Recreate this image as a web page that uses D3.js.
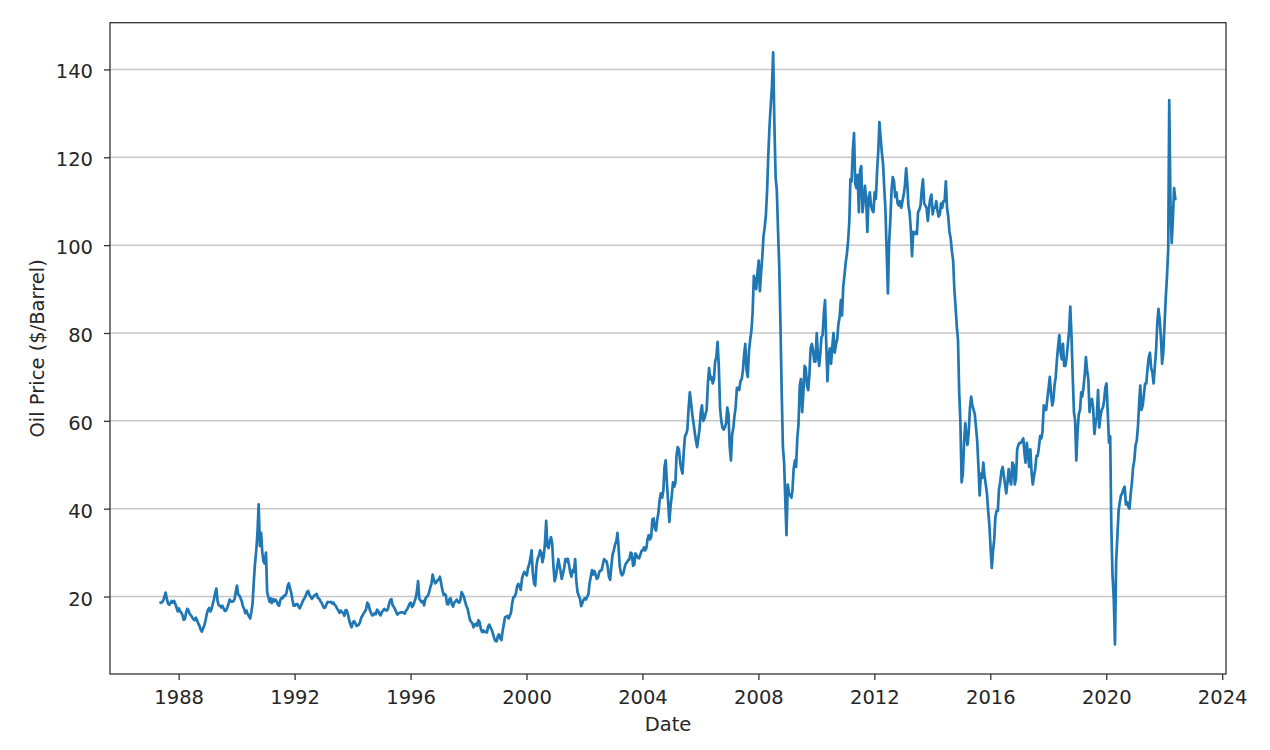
<!DOCTYPE html>
<html><head><meta charset="utf-8">
<script src="https://cdn.jsdelivr.net/npm/d3@7"></script>
<style>body{margin:0;background:#fff} svg text{font-family:"DejaVu Sans",sans-serif;fill:#262626}</style>
</head><body><svg id="chart" width="1270" height="750"></svg>
<script>
// Brent oil price, two readings per month (around the 5th and the 20th), $/barrel
const p1987 = [18.6, 18.7, 19.0, 19.9, 20.9, 19.5, 18.4, 18.1, 18.5, 19.0, 18.6, 19.0, 18.3, 17.5, 16.6]; // from May 20
const p1988 = [17.3, 16.6, 16.3, 15.6, 14.7, 14.9, 16.5, 17.2, 16.8, 16.0, 15.7, 15.2, 14.8, 14.6, 15.2, 14.6, 13.8, 13.3, 12.4, 12.0, 12.8, 13.4, 14.6, 16.0];
const p1989 = [17.0, 17.4, 16.6, 17.2, 18.3, 19.3, 20.8, 21.8, 19.0, 18.0, 17.9, 17.5, 17.9, 17.3, 16.7, 16.8, 17.5, 18.3, 19.3, 18.9, 18.8, 18.9, 19.4, 21.0];
const p1990 = [22.5, 20.5, 20.2, 19.6, 19.0, 17.8, 17.2, 16.2, 16.8, 16.0, 15.5, 15.0, 16.5, 18.3, 23.5, 27.5, 30.5, 34.5, 41.0, 31.5, 34.5, 30.0, 28.0, 27.5];
const p1991 = [30.0, 21.0, 19.8, 18.8, 19.6, 18.5, 19.4, 18.9, 19.3, 18.9, 18.1, 17.9, 19.2, 19.7, 19.6, 20.2, 20.2, 20.8, 22.4, 23.0, 21.8, 20.8, 19.2, 17.9];
const p1992 = [17.9, 18.3, 18.3, 17.7, 17.3, 17.9, 18.6, 19.2, 19.6, 20.2, 21.0, 21.3, 20.4, 20.0, 19.5, 19.8, 20.2, 20.4, 20.6, 19.7, 19.5, 19.0, 18.6, 18.0];
const p1993 = [17.4, 17.5, 18.2, 18.8, 18.7, 18.7, 18.8, 18.4, 18.6, 18.1, 17.8, 17.2, 16.8, 16.3, 16.8, 16.5, 16.2, 15.6, 16.9, 16.8, 15.8, 14.5, 13.6, 13.0];
const p1994 = [14.1, 14.4, 13.9, 13.3, 13.4, 13.6, 14.2, 15.2, 15.6, 16.2, 16.6, 17.1, 18.6, 18.2, 17.0, 16.3, 15.7, 15.8, 16.2, 16.0, 17.0, 16.7, 16.0, 15.7];
const p1995 = [16.5, 16.8, 17.2, 16.9, 16.8, 17.1, 18.3, 19.2, 19.4, 18.0, 17.6, 17.1, 16.4, 15.9, 16.2, 16.3, 16.4, 16.4, 16.3, 16.1, 16.8, 17.1, 17.7, 18.4];
const p1996 = [18.6, 17.6, 18.0, 18.9, 19.6, 21.0, 23.5, 19.5, 19.1, 18.7, 19.0, 18.0, 19.4, 19.9, 20.1, 20.9, 22.0, 22.9, 25.0, 23.8, 23.0, 23.2, 23.7, 23.8];
const p1997 = [24.5, 23.0, 21.5, 20.4, 20.6, 20.3, 18.3, 18.2, 19.4, 19.6, 18.2, 17.7, 18.6, 18.9, 19.3, 18.8, 18.6, 19.2, 21.0, 20.5, 19.8, 18.7, 17.8, 17.2];
const p1998 = [15.8, 14.6, 14.2, 13.8, 13.0, 13.6, 13.8, 13.3, 14.6, 14.2, 12.6, 11.9, 12.3, 11.9, 12.0, 11.8, 13.2, 13.6, 12.9, 12.4, 11.5, 10.5, 9.9, 9.8];
const p1999 = [11.0, 11.4, 10.4, 10.1, 12.0, 13.5, 15.3, 15.4, 15.6, 15.0, 15.6, 16.4, 18.5, 19.8, 20.0, 20.7, 22.3, 22.9, 22.4, 21.5, 24.0, 25.0, 25.6, 25.2];
const p2000 = [24.8, 26.5, 27.4, 28.8, 30.5, 25.5, 23.0, 22.5, 26.9, 28.6, 29.3, 30.5, 30.0, 27.8, 29.2, 32.0, 37.2, 31.5, 31.0, 32.5, 33.5, 32.0, 27.0, 23.5];
const p2001 = [24.5, 26.5, 28.5, 27.0, 25.8, 24.0, 25.2, 26.5, 28.5, 28.0, 28.6, 27.2, 25.5, 24.5, 26.0, 25.6, 28.5, 23.5, 21.0, 20.2, 19.5, 17.8, 18.5, 19.3];
const p2002 = [19.6, 19.3, 20.0, 20.6, 23.0, 24.4, 26.0, 25.0, 25.8, 25.0, 24.0, 24.3, 25.5, 25.9, 26.0, 27.3, 28.5, 28.2, 28.0, 26.8, 24.5, 23.8, 26.8, 29.5];
const p2003 = [30.5, 31.8, 32.5, 34.5, 31.5, 27.0, 25.3, 24.8, 25.3, 26.5, 27.5, 27.8, 28.3, 28.4, 30.0, 29.8, 27.0, 27.2, 29.8, 29.4, 28.8, 28.7, 29.5, 30.4];
const p2004 = [30.5, 31.2, 30.5, 31.0, 33.0, 34.0, 33.0, 33.5, 37.5, 37.8, 35.5, 35.0, 37.5, 39.0, 42.0, 43.5, 42.5, 44.0, 49.5, 51.0, 45.5, 41.5, 37.0, 40.5];
const p2005 = [43.0, 46.0, 45.0, 46.0, 52.0, 54.0, 53.5, 50.5, 49.0, 48.0, 53.0, 56.5, 57.0, 58.0, 63.0, 66.5, 64.0, 61.5, 59.5, 57.5, 55.5, 54.0, 56.0, 58.0];
const p2006 = [62.0, 63.5, 60.0, 60.5, 61.5, 62.5, 68.5, 72.0, 69.5, 70.0, 68.5, 69.5, 73.5, 74.5, 78.0, 72.5, 63.0, 60.0, 58.5, 58.0, 58.5, 59.5, 63.0, 61.5];
const p2007 = [54.0, 51.0, 57.0, 58.5, 61.0, 63.0, 67.5, 67.5, 67.0, 69.0, 69.5, 71.5, 75.0, 77.5, 71.5, 70.0, 76.0, 78.5, 80.5, 84.5, 93.0, 92.0, 90.0, 93.5];
const p2008 = [96.5, 89.5, 94.0, 97.5, 102.0, 104.0, 107.0, 112.5, 120.5, 127.0, 132.0, 136.0, 143.9, 128.0, 115.5, 112.5, 103.0, 95.0, 82.0, 67.0, 54.0, 50.5, 42.0, 34.0];
const p2009 = [45.5, 43.5, 43.0, 42.5, 44.0, 49.0, 51.0, 49.5, 56.0, 59.0, 68.0, 69.5, 62.0, 66.0, 72.5, 72.0, 68.0, 67.0, 70.5, 76.5, 77.5, 76.0, 73.5, 73.5];
const p2010 = [80.0, 75.0, 72.5, 75.5, 79.0, 79.5, 84.5, 87.5, 77.5, 69.0, 75.0, 76.5, 73.0, 77.0, 80.0, 75.5, 77.5, 78.5, 82.0, 83.5, 87.5, 84.0, 90.5, 93.0];
const p2011 = [96.0, 98.0, 101.0, 105.5, 115.0, 114.5, 121.5, 125.5, 114.0, 113.0, 116.0, 107.5, 117.0, 118.0, 107.5, 110.0, 113.5, 110.5, 103.0, 110.5, 112.0, 109.0, 108.0, 107.5];
const p2012 = [112.0, 110.5, 117.0, 121.5, 128.0, 124.5, 121.0, 118.5, 113.0, 108.0, 98.0, 89.0, 100.5, 105.5, 112.5, 115.5, 114.5, 111.0, 112.0, 109.5, 109.0, 110.0, 108.5, 110.0];
const p2013 = [111.5, 113.5, 117.5, 114.0, 109.0, 107.5, 103.5, 97.5, 103.0, 102.5, 103.0, 102.5, 107.5, 108.0, 109.0, 112.5, 115.0, 109.5, 109.0, 108.5, 105.5, 108.5, 110.5, 111.5];
const p2014 = [107.0, 108.5, 108.5, 110.0, 108.0, 106.5, 107.0, 109.5, 108.5, 110.0, 110.0, 114.5, 108.5, 106.5, 103.0, 101.5, 98.5, 96.5, 90.0, 86.0, 81.5, 78.5, 66.5, 60.0];
const p2015 = [46.0, 48.0, 55.0, 59.5, 57.0, 54.5, 57.5, 63.0, 65.5, 63.5, 62.5, 61.5, 58.5, 55.5, 49.5, 43.0, 48.0, 47.0, 50.5, 47.5, 45.5, 43.5, 39.5, 36.5];
const p2016 = [31.0, 26.5, 30.5, 33.0, 38.0, 39.5, 39.5, 44.5, 46.0, 48.5, 49.5, 47.5, 45.5, 43.5, 46.0, 49.0, 46.5, 45.5, 50.5, 50.0, 45.5, 47.0, 53.5, 54.5];
const p2017 = [55.0, 55.0, 55.5, 56.0, 53.0, 50.5, 55.0, 52.5, 49.5, 53.5, 48.0, 45.5, 47.5, 49.0, 52.0, 52.0, 54.0, 56.5, 56.0, 57.5, 63.5, 62.5, 62.5, 65.0];
const p2018 = [67.5, 70.0, 66.0, 63.5, 64.5, 68.0, 70.0, 74.0, 77.0, 79.5, 75.5, 74.0, 77.5, 72.5, 72.5, 74.5, 77.5, 80.5, 86.0, 79.5, 70.0, 62.0, 60.0, 51.0];
const p2019 = [57.5, 61.5, 62.5, 66.5, 65.5, 67.5, 70.5, 74.5, 71.5, 69.5, 62.0, 64.5, 65.0, 63.0, 57.0, 59.5, 61.0, 67.0, 58.5, 61.0, 62.5, 63.0, 64.5, 67.5];
const p2020 = [68.5, 62.0, 55.0, 56.5, 36.0, 25.0, 19.5, 9.1, 28.0, 33.5, 39.5, 41.5, 43.0, 43.5, 44.5, 45.0, 41.0, 41.5, 40.5, 40.0, 43.5, 46.0, 49.5, 51.0];
const p2021 = [54.5, 55.5, 59.0, 64.5, 68.0, 62.5, 63.5, 66.0, 68.5, 68.5, 72.0, 74.5, 75.5, 72.0, 71.0, 68.5, 72.5, 76.0, 82.0, 85.5, 83.0, 79.0, 73.0, 75.5];
const p2022 = [82.0, 88.0, 93.0, 99.0, 133.0, 110.0, 100.5, 106.0, 113.0, 110.5]; // to May 20

const priceYears = [1987,1988,1989,1990,1991,1992,1993,1994,1995,1996,1997,1998,1999,2000,2001,2002,2003,2004,2005,2006,2007,2008,2009,2010,2011,2012,2013,2014,2015,2016,2017,2018,2019,2020,2021,2022];
const priceRows = [p1987,p1988,p1989,p1990,p1991,p1992,p1993,p1994,p1995,p1996,p1997,p1998,p1999,p2000,p2001,p2002,p2003,p2004,p2005,p2006,p2007,p2008,p2009,p2010,p2011,p2012,p2013,p2014,p2015,p2016,p2017,p2018,p2019,p2020,p2021,p2022];
const firstSlot1987 = 9; // May, second half
const yTickValues = [20, 40, 60, 80, 100, 120, 140];
const xTickYears = [1988, 1992, 1996, 2000, 2004, 2008, 2012, 2016, 2020, 2024];
const xLabel = "Date", yLabel = "Oil Price ($/Barrel)";

// build series
const series = [];
priceRows.forEach((row, k) => {
  const yr = priceYears[k];
  const off = yr === 1987 ? firstSlot1987 : 0;
  row.forEach((v, i) => {
    const s = off + i;
    series.push({date: new Date(yr, Math.floor(s / 2), s % 2 ? 20 : 5), value: v});
  });
});

const L = 110, R = 1226, T = 22.7, B = 674;
const FS = 19.5;
const svg = d3.select("#chart");

const dExt = d3.extent(series, d => d.date);
const dSpan = dExt[1] - dExt[0];
const x = d3.scaleTime()
  .domain([new Date(+dExt[0] - 0.05 * dSpan), new Date(+dExt[1] + 0.05 * dSpan)])
  .range([L, R]);
const vExt = d3.extent(series, d => d.value);
const vSpan = vExt[1] - vExt[0];
const y = d3.scaleLinear()
  .domain([vExt[0] - 0.05 * vSpan, vExt[1] + 0.05 * vSpan])
  .range([B, T]);

// grid
svg.append("g").selectAll("line").data(yTickValues).join("line")
  .attr("x1", L).attr("x2", R)
  .attr("y1", d => y(d)).attr("y2", d => y(d))
  .attr("stroke", "#c8c8c8").attr("stroke-width", 1.5);

// line
const line = d3.line().x(d => x(d.date)).y(d => y(d.value));
svg.append("path").datum(series)
  .attr("d", line).attr("fill", "none")
  .attr("stroke", "#1f77b4").attr("stroke-width", 2.7)
  .attr("stroke-linejoin", "round").attr("stroke-linecap", "square");

// axes
const xAxis = d3.axisBottom(x)
  .tickValues(xTickYears.map(yv => new Date(yv, 0, 1)))
  .tickFormat(d3.timeFormat("%Y"))
  .tickSize(6);
const yAxis = d3.axisLeft(y).tickValues(yTickValues).tickSize(6);

const gx = svg.append("g").attr("transform", `translate(0,${B})`).call(xAxis);
const gy = svg.append("g").attr("transform", `translate(${L},0)`).call(yAxis);
[gx, gy].forEach(g => {
  g.select(".domain").remove();
  g.selectAll(".tick line").attr("stroke", "#333").attr("stroke-width", 1.3);
  g.selectAll(".tick text").attr("font-size", FS).attr("fill", "#262626")
    .attr("font-family", '"DejaVu Sans", sans-serif');
});
gx.selectAll(".tick text").attr("y", 30).attr("dy", 0);
gy.selectAll(".tick text").attr("x", -17).attr("dy", 8.5);

// spines
svg.append("rect").attr("x", L).attr("y", T).attr("width", R - L).attr("height", B - T)
  .attr("fill", "none").attr("stroke", "#333").attr("stroke-width", 1.3);

// labels
svg.append("text").attr("x", (L + R) / 2).attr("y", 730.5)
  .attr("text-anchor", "middle").attr("font-size", FS).text(xLabel);
svg.append("text").attr("transform", `translate(44,${(T + B) / 2}) rotate(-90)`)
  .attr("text-anchor", "middle").attr("font-size", FS).text(yLabel);
</script></body></html>
